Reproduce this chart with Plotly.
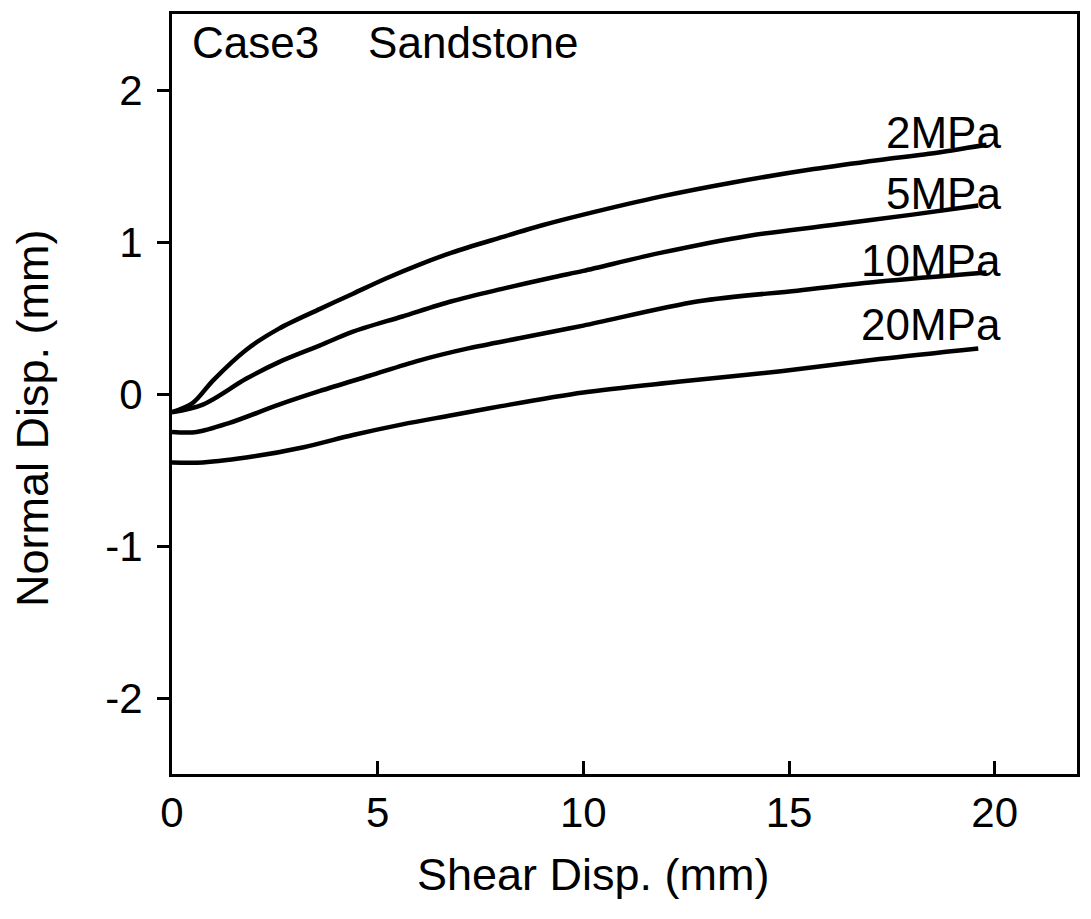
import plotly.graph_objects as go

# Normal vs. shear displacement, sandstone, four normal stress levels
x_2mpa = [0, 0.5, 1.0, 1.8, 2.6, 3.6, 4.4, 5.2, 6.0, 6.8, 8.0, 9.0, 10.0, 11.9, 13.6, 15.6, 17.2, 18.4, 19.8]
y_2mpa = [-0.12, -0.06, 0.09, 0.29, 0.43, 0.56, 0.66, 0.76, 0.85, 0.93, 1.03, 1.11, 1.18, 1.30, 1.39, 1.48, 1.54, 1.58, 1.64]

x_5mpa = [0, 0.75, 1.8, 2.6, 3.6, 4.4, 5.6, 6.8, 8.0, 9.3, 10.0, 11.9, 14.0, 16.0, 18.0, 19.6]
y_5mpa = [-0.12, -0.07, 0.10, 0.21, 0.32, 0.41, 0.51, 0.61, 0.69, 0.77, 0.81, 0.93, 1.04, 1.11, 1.18, 1.24]

x_10mpa = [0, 0.6, 1.4, 2.6, 3.6, 4.8, 6.0, 7.2, 8.5, 10.0, 12.8, 15.2, 17.2, 19.8]
y_10mpa = [-0.25, -0.25, -0.19, -0.07, 0.02, 0.12, 0.22, 0.30, 0.37, 0.45, 0.61, 0.68, 0.74, 0.80]

x_20mpa = [0, 0.75, 2.0, 3.2, 4.4, 5.6, 6.8, 8.0, 10.0, 12.3, 14.8, 17.2, 19.6]
y_20mpa = [-0.45, -0.45, -0.41, -0.35, -0.27, -0.20, -0.14, -0.08, 0.01, 0.08, 0.15, 0.23, 0.30]

series_names = ["2MPa", "5MPa", "10MPa", "20MPa"]
label_y = [1.72, 1.32, 0.88, 0.46]

x_ticks = [0, 5, 10, 15, 20]
y_ticks = [-2, -1, 0, 1, 2]
y_tick_text = ["-2", "-1", "0", "1", "2"]

FONT = "Liberation Sans, Arial, Helvetica, sans-serif"

fig = go.Figure()
for xs, ys, name in zip([x_2mpa, x_5mpa, x_10mpa, x_20mpa],
                        [y_2mpa, y_5mpa, y_10mpa, y_20mpa],
                        series_names):
    fig.add_trace(go.Scatter(
        x=xs, y=ys, mode="lines", name=name,
        line=dict(color="black", width=4.5, shape="spline", smoothing=0.9),
        showlegend=False,
    ))

# curve labels at the right end of each line
for name, ly in zip(series_names, label_y):
    fig.add_annotation(
        x=20.2, y=ly, xref="x", yref="y", text=name, showarrow=False,
        xanchor="right", yanchor="middle",
        font=dict(family=FONT, size=44, color="black"),
    )

fig.add_annotation(
    x=0.020, y=0.997, xref="paper", yref="paper",
    text="Case3\u00a0\u00a0\u00a0\u00a0Sandstone", showarrow=False,
    xanchor="left", yanchor="top",
    font=dict(family=FONT, size=44, color="black"),
)

# axis titles
fig.add_annotation(
    x=0.466, y=-0.132, xref="paper", yref="paper",
    text="Shear Disp. (mm)", showarrow=False,
    xanchor="center", yanchor="middle",
    font=dict(family=FONT, size=45, color="black"),
)
fig.add_annotation(
    x=-0.154, y=0.468, xref="paper", yref="paper",
    text="Normal Disp. (mm)", showarrow=False, textangle=-90,
    xanchor="center", yanchor="middle",
    font=dict(family=FONT, size=45, color="black"),
)

fig.update_layout(
    width=1091, height=919,
    margin=dict(l=172, r=14, t=14, b=145),
    paper_bgcolor="white", plot_bgcolor="white",
    font=dict(family=FONT, color="black"),
)
fig.update_xaxes(
    range=[0, 22], tickvals=x_ticks, ticks="inside", ticklen=13, tickwidth=2.5,
    tickcolor="black", showline=True, linecolor="black", linewidth=2.8, mirror=True,
    showgrid=False, zeroline=False, tickfont=dict(family=FONT, size=42),
    ticklabelstandoff=0,
)
fig.update_yaxes(
    range=[-2.5, 2.5], tickvals=y_ticks, ticktext=y_tick_text, ticks="outside",
    ticklen=12, tickwidth=2.5, tickcolor="black", showline=True, linecolor="black",
    linewidth=2.8, mirror=True, showgrid=False, zeroline=False,
    tickfont=dict(family=FONT, size=42), ticklabelstandoff=6,
)

fig.write_html("out.html")
